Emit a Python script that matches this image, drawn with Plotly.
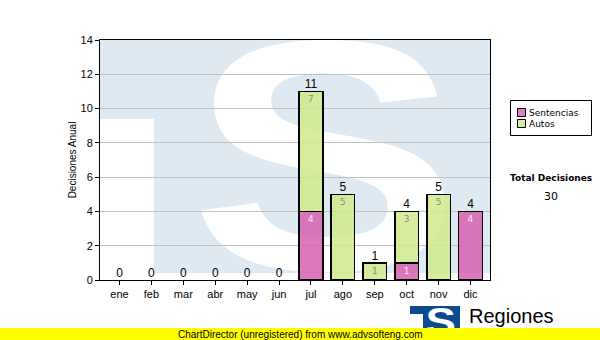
import base64
import plotly.graph_objects as go

months = ["ene", "feb", "mar", "abr", "may", "jun", "jul", "ago", "sep", "oct", "nov", "dic"]
sentencias = [0, 0, 0, 0, 0, 0, 4, 0, 0, 1, 0, 4]
autos = [0, 0, 0, 0, 0, 0, 7, 5, 1, 3, 5, 0]
series_names = ["Sentencias", "Autos"]
y_ticks = [0, 2, 4, 6, 8, 10, 12, 14]

totals = [s + a for s, a in zip(sentencias, autos)]
grand_total = sum(totals)

PINK = "rgba(214,96,178,0.85)"
GREEN = "rgba(208,234,140,0.85)"


def data_uri(svg):
    return "data:image/svg+xml;base64," + base64.b64encode(svg.encode("utf-8")).decode("ascii")


def px(xp):
    return (xp - 100) / 390


def py(yp):
    return (280 - yp) / 240


watermark_svg = (
    '<svg xmlns="http://www.w3.org/2000/svg" width="390" height="240" viewBox="0 0 390 240">'
    '<rect x="0" y="0" width="390" height="233" fill="#dee9f2"/>'
    '<rect x="0" y="79" width="54" height="161" fill="#ffffff"/>'
    '<text x="72" y="229" font-family="Liberation Sans, Arial, sans-serif" font-weight="bold" '
    'font-size="328" fill="#ffffff" transform="scale(1.24,1)">S</text>'
    '</svg>'
)

logo_svg = (
    '<svg xmlns="http://www.w3.org/2000/svg" width="50" height="30" viewBox="0 0 50 30">'
    '<rect x="0" y="0" width="50" height="30" fill="#0b4a8f"/>'
    '<rect x="0" y="8" width="13" height="22" fill="#ffffff"/>'
    '<text x="13" y="29" font-family="Liberation Sans, Arial, sans-serif" font-weight="bold" '
    'font-size="38" fill="#ffffff" transform="scale(1.2,1)">S</text>'
    '</svg>'
)

fig = go.Figure()

fig.add_trace(go.Bar(
    x=months, y=sentencias, name=series_names[0], showlegend=False,
    marker=dict(color=PINK,
                line=dict(color="black", width=[1.5 if v else 0 for v in sentencias])),
    text=[str(v) if v else "" for v in sentencias],
    textposition="inside", insidetextanchor="end",
    textfont=dict(size=9, color="#f2f2f2", family="DejaVu Sans"),
    width=0.74, hoverinfo="skip",
))
fig.add_trace(go.Bar(
    x=months, y=autos, name=series_names[1], showlegend=False,
    marker=dict(color=GREEN,
                line=dict(color="black", width=[1.5 if v else 0 for v in autos])),
    text=[str(v) if v else "" for v in autos],
    textposition="inside", insidetextanchor="end",
    textfont=dict(size=9, color="#8a8a8a", family="DejaVu Sans"),
    width=0.74, hoverinfo="skip",
))
fig.add_trace(go.Scatter(
    x=months, y=totals, mode="text", text=[str(t) for t in totals],
    textposition="top center", textfont=dict(size=12, color="black", family="Liberation Sans"),
    showlegend=False, cliponaxis=False, hoverinfo="skip",
))

shapes = [
    # legend box
    dict(type="rect", xref="paper", yref="paper",
         x0=px(510.5), x1=px(591.5), y0=py(135.5), y1=py(100.5),
         fillcolor="white", line=dict(color="black", width=1), layer="above"),
    dict(type="rect", xref="paper", yref="paper",
         x0=px(517.5), x1=px(525.5), y0=py(116.5), y1=py(108.5),
         fillcolor="#e07fc2", line=dict(color="black", width=1), layer="above"),
    dict(type="rect", xref="paper", yref="paper",
         x0=px(517.5), x1=px(525.5), y0=py(127.5), y1=py(119.5),
         fillcolor="#d8ee9a", line=dict(color="black", width=1), layer="above"),
    # watermark bar at bottom
    dict(type="rect", xref="paper", yref="paper",
         x0=px(0), x1=px(600), y0=py(340), y1=py(328),
         fillcolor="#ffff00", line=dict(width=0), layer="above"),
]

fig.update_layout(
    width=600, height=340,
    margin=dict(l=100, r=110, t=40, b=60, autoexpand=False),
    paper_bgcolor="white", plot_bgcolor="white",
    barmode="stack", bargap=0.26,
    showlegend=False,
    font=dict(family="Liberation Sans", size=11, color="black"),
    xaxis=dict(
        showline=True, linecolor="black", linewidth=1, mirror=True,
        ticks="outside", ticklen=4, tickcolor="black",
        tickfont=dict(size=11), fixedrange=True,
    ),
    yaxis=dict(
        range=[0, 14], tickvals=y_ticks, ticktext=[str(v) for v in y_ticks],
        showline=True, linecolor="black", linewidth=1, mirror=True,
        ticks="outside", ticklen=4, tickcolor="black",
        showgrid=True, gridcolor="#c0c0c0", gridwidth=1,
        tickfont=dict(size=11), zeroline=False,
        title=dict(text="Decisiones Anual", font=dict(size=10), standoff=2),
    ),
    images=[
        dict(source=data_uri(watermark_svg), xref="paper", yref="paper",
             x=0, y=1, sizex=1, sizey=1, xanchor="left", yanchor="top",
             sizing="stretch", layer="below"),
        dict(source=data_uri(logo_svg), xref="paper", yref="paper",
             x=px(410), y=py(306), sizex=50 / 390, sizey=30 / 240,
             xanchor="left", yanchor="top", sizing="stretch", layer="above"),
    ],
    shapes=shapes,
    annotations=[
        dict(text=series_names[0], xref="paper", yref="paper",
             x=px(527), y=py(112.5), xanchor="left", yanchor="middle", showarrow=False,
             font=dict(family="DejaVu Sans", size=9)),
        dict(text=series_names[1], xref="paper", yref="paper",
             x=px(527), y=py(123.5), xanchor="left", yanchor="middle", showarrow=False,
             font=dict(family="DejaVu Sans", size=9)),
        dict(text="<b>Total Decisiones</b>", xref="paper", yref="paper",
             x=px(551), y=py(178), xanchor="center", yanchor="middle", showarrow=False,
             font=dict(family="DejaVu Sans", size=9)),
        dict(text=str(grand_total), xref="paper", yref="paper",
             x=px(551), y=py(196), xanchor="center", yanchor="middle", showarrow=False,
             font=dict(family="DejaVu Sans", size=11)),
        dict(text="ChartDirector (unregistered) from www.advsofteng.com", xref="paper", yref="paper",
             x=px(300), y=py(334), xanchor="center", yanchor="middle", showarrow=False,
             font=dict(family="Liberation Sans", size=10)),
        dict(text="Regiones", xref="paper", yref="paper",
             x=px(467), y=py(316), xanchor="left", yanchor="middle", showarrow=False,
             font=dict(family="Liberation Sans", size=20)),
    ],
)

fig.write_html("out.html")
